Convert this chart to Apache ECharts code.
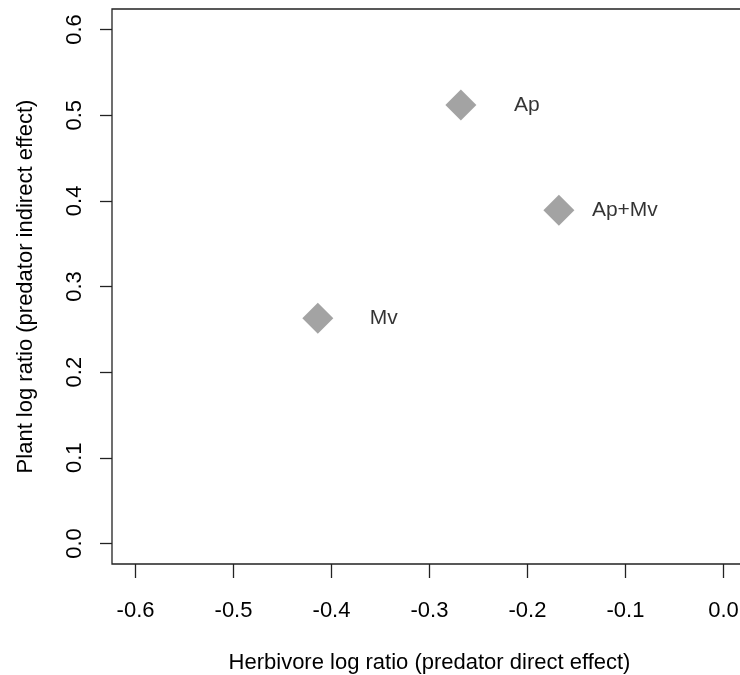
<!DOCTYPE html>
<html>
<head>
<meta charset="utf-8">
<script src="https://cdn.jsdelivr.net/npm/echarts@6/dist/echarts.min.js"></script>
<style>
html,body{margin:0;padding:0;background:#fff;}
#chart{width:740px;height:675px;}
</style>
</head>
<body>
<div id="chart"></div>
<script>
// Data
const pointNames = ["Ap", "Ap+Mv", "Mv"];
const herbivoreLogRatio = [-0.268, -0.168, -0.414];
const plantLogRatio = [0.512, 0.389, 0.263];
const xTickValues = [-0.6, -0.5, -0.4, -0.3, -0.2, -0.1, 0.0];
const yTickValues = [0.0, 0.1, 0.2, 0.3, 0.4, 0.5, 0.6];

const FONT = "'Liberation Sans', Arial, sans-serif";
const AXIS_COLOR = '#222';
const TEXT_COLOR = '#000';

const chart = echarts.init(document.getElementById('chart'), null, {renderer: 'canvas'});

const seriesData = pointNames.map((n, i) => ({name: n, value: [herbivoreLogRatio[i], plantLogRatio[i]]}));

chart.setOption({
  animation: false,
  backgroundColor: '#fff',
  grid: {
    left: 112, top: 9, width: 635, height: 555,
    outerBoundsMode: 'none',
    containLabel: false,
    show: true, borderColor: AXIS_COLOR, borderWidth: 1.3, backgroundColor: 'transparent'
  },
  xAxis: {
    type: 'value',
    min: -0.624, max: 0.024,
    name: 'Herbivore log ratio (predator direct effect)',
    nameLocation: 'middle',
    nameGap: 88,
    nameTextStyle: {fontFamily: FONT, fontSize: 22, color: TEXT_COLOR},
    axisLine: {show: false, onZero: false},
    splitLine: {show: false},
    axisTick: {show: true, inside: false, length: 14, customValues: xTickValues,
      lineStyle: {color: AXIS_COLOR, width: 1.3}},
    axisLabel: {show: true, margin: 36, customValues: xTickValues,
      fontFamily: FONT, fontSize: 22, color: TEXT_COLOR,
      formatter: v => v.toFixed(1)}
  },
  yAxis: {
    type: 'value',
    min: -0.024, max: 0.624,
    name: 'Plant log ratio (predator indirect effect)',
    nameLocation: 'middle',
    nameRotate: 90,
    nameGap: 75,
    nameTextStyle: {fontFamily: FONT, fontSize: 22, color: TEXT_COLOR},
    axisLine: {show: false, onZero: false},
    splitLine: {show: false},
    axisTick: {show: true, inside: false, length: 12, customValues: yTickValues,
      lineStyle: {color: AXIS_COLOR, width: 1.3}},
    axisLabel: {show: true, margin: 26, rotate: 90, customValues: yTickValues,
      fontFamily: FONT, fontSize: 22, color: TEXT_COLOR,
      formatter: v => v.toFixed(1)}
  },
  series: [{
    type: 'scatter',
    symbol: 'diamond',
    symbolSize: 31,
    itemStyle: {color: '#8c8c8c'},
    data: seriesData,
    label: {
      show: true,
      position: 'inside',
      offset: [66, 0],
      formatter: p => p.name,
      fontFamily: FONT, fontSize: 21, color: TEXT_COLOR
    }
  }]
});
</script>
</body>
</html>
